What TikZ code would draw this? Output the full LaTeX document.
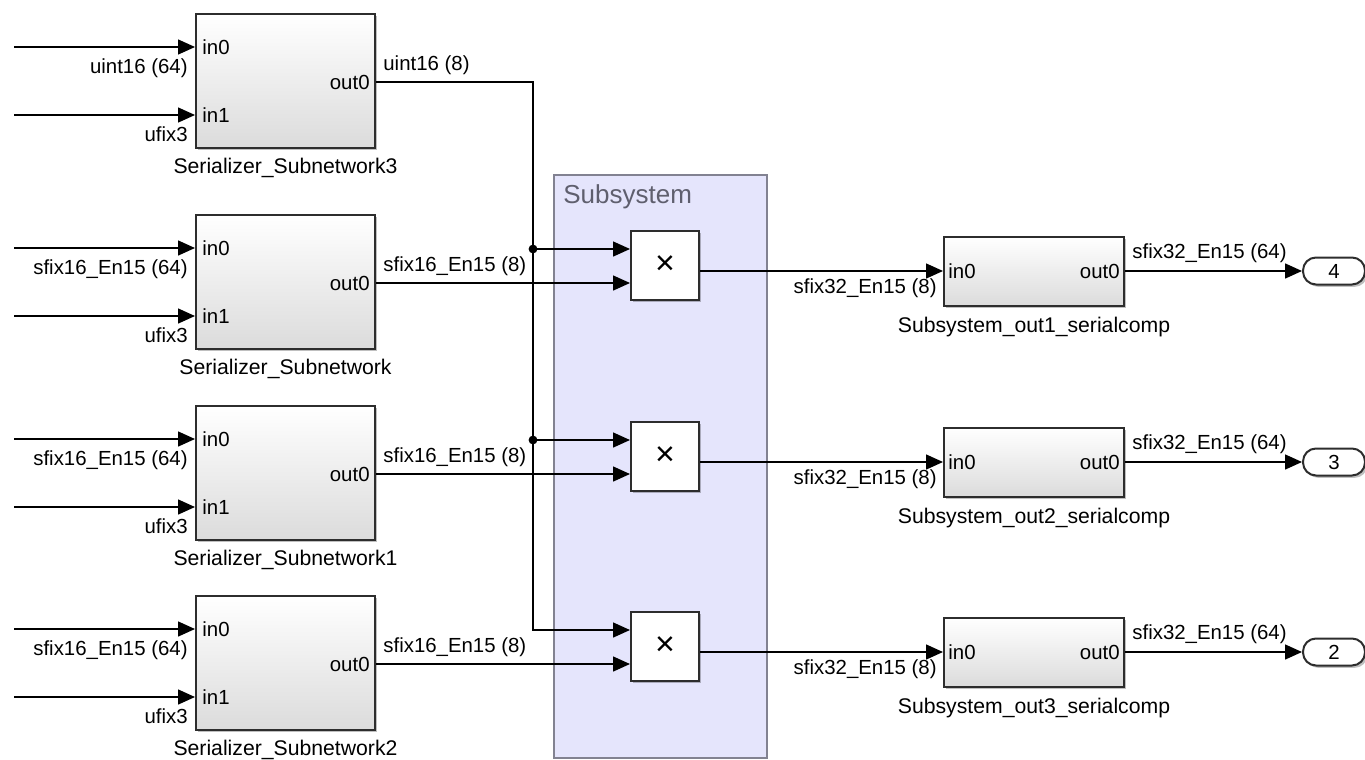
\documentclass[tikz,border=0pt]{standalone}
\usepackage{fontspec}
\setmainfont{Liberation Sans}
\usetikzlibrary{arrows.meta,calc,shadows}

\definecolor{subsysfill}{RGB}{229,229,252}
\definecolor{subsysline}{RGB}{130,130,145}
\definecolor{subsystext}{RGB}{95,95,110}
\definecolor{blkline}{RGB}{45,45,45}

\tikzset{
  wire/.style={line width=0.75pt},
  sig/.style={wire, -{Triangle[length=8.5pt,width=7.5pt]}},
  blkshadow/.style={drop shadow={shadow xshift=1.2pt,shadow yshift=-1.2pt,opacity=0.25,fill=black}},
  serblock/.style={draw=blkline, line width=1pt, top color=white, bottom color=black!14,
    blkshadow, minimum width=89.5pt, minimum height=67pt, inner sep=0pt, anchor=north west},
  compblock/.style={serblock, minimum width=90pt, minimum height=34.5pt},
  mulblock/.style={draw=blkline, line width=1pt, fill=white, blkshadow, minimum width=34pt,
    minimum height=34.5pt, inner sep=0pt, anchor=north west, font=\fontsize{17}{17}\selectfont},
  outport/.style={draw=blkline, line width=1pt, fill=white, rounded corners=6.5pt, blkshadow,
    minimum width=31pt, minimum height=13.5pt, inner sep=0pt, anchor=west},
  lbl/.style={inner sep=0pt},
  namelbl/.style={lbl, anchor=north, font=\fontsize{10.6}{12}\selectfont},
}

\begin{document}
\begin{tikzpicture}[x=0.5pt,y=-0.5pt,font=\fontsize{10.2}{12}\selectfont]
  \useasboundingbox (0,0) rectangle (1365,760);

  % subsystem area
  \node[draw=subsysline, line width=1.2pt, fill=subsysfill, minimum width=106.5pt,
    minimum height=291.5pt, inner sep=0pt, anchor=north west] (subsys) at (553,174) {};
  \node[lbl, anchor=north west, text=subsystext, font=\fontsize{13}{15}\selectfont]
    (subsyslbl) at (563,184) {Subsystem};

  % serializers
  \foreach \blk/\top/\dtin/\dtout/\nm in {
    ser3/13/uint16 (64)/uint16 (8)/Serializer\_Subnetwork3,
    ser0/214/sfix16\_En15 (64)/sfix16\_En15 (8)/Serializer\_Subnetwork,
    ser1/405/sfix16\_En15 (64)/sfix16\_En15 (8)/Serializer\_Subnetwork1,
    ser2/595/sfix16\_En15 (64)/sfix16\_En15 (8)/Serializer\_Subnetwork2}
  {
    \node[serblock] (\blk) at (195,\top) {};
    \coordinate (\blk-in0) at ($(\blk.north west)+(0,34)$);
    \coordinate (\blk-in1) at ($(\blk.north west)+(0,102)$);
    \coordinate (\blk-out) at ($(\blk.north east)+(0,69)$);
    \coordinate (\blk-src0) at ($(\blk-in0)+(-181,0)$);
    \coordinate (\blk-src1) at ($(\blk-in1)+(-181,0)$);
    \draw[sig] (\blk-src0) -- (\blk-in0);
    \draw[sig] (\blk-src1) -- (\blk-in1);
    \node[lbl, anchor=west] at ($(\blk-in0)+(7,0)$) {in0};
    \node[lbl, anchor=west] at ($(\blk-in1)+(7,0)$) {in1};
    \node[lbl, anchor=east] at ($(\blk-out)+(-6,0)$) {out0};
    \node[lbl, anchor=base east] at ($(\blk-in0)+(-7,26)$) {\dtin};
    \node[lbl, anchor=base east] at ($(\blk-in1)+(-7,26)$) {ufix3};
    \node[lbl, anchor=base west] at ($(\blk-out)+(7,-12)$) {\dtout};
    \node[namelbl] at ($(\blk.south)+(0,9)$) {\nm};
  }

  % products
  \foreach \m/\top in {mul1/230, mul2/421, mul3/611}{
    \node[mulblock] (\m) at (630,\top) {×};
    \coordinate (\m-in0) at ($(\m.north west)+(0,19)$);
    \coordinate (\m-in1) at ($(\m.north west)+(0,53)$);
    \coordinate (\m-out) at ($(\m.north east)+(0,41)$);
  }

  % output converters and ports
  \foreach \c/\top/\nm/\port in {
    cmp1/236/Subsystem\_out1\_serialcomp/4,
    cmp2/427/Subsystem\_out2\_serialcomp/3,
    cmp3/617/Subsystem\_out3\_serialcomp/2}
  {
    \node[compblock] (\c) at (943,\top) {};
    \coordinate (\c-in0) at ($(\c.north west)+(0,35)$);
    \coordinate (\c-out) at ($(\c.north east)+(0,35)$);
    \node[outport] (\c-port) at ($(\c-out)+(177,0)$) {\port};
    \draw[sig] (\c-out) -- (\c-port);
    \node[lbl, anchor=west] at ($(\c-in0)+(5,0)$) {in0};
    \node[lbl, anchor=east] at ($(\c-out)+(-5,0)$) {out0};
    \node[lbl, anchor=base east] at ($(\c-in0)+(-6,22)$) {sfix32\_En15 (8)};
    \node[lbl, anchor=base west] at ($(\c-out)+(7,-13)$) {sfix32\_En15 (64)};
    \node[namelbl] at ($(\c.south)+(0,10)$) {\nm};
  }

  % data into the products
  \draw[sig] (ser0-out) -- (mul1-in1);
  \draw[sig] (ser1-out) -- (mul2-in1);
  \draw[sig] (ser2-out) -- (mul3-in1);

  \coordinate (busX) at (533,0);
  \coordinate (tap1) at (mul1-in0 -| busX);
  \coordinate (tap2) at (mul2-in0 -| busX);
  \draw[sig] (ser3-out) -| (mul3-in0 -| busX) -- (mul3-in0);
  \draw[sig] (tap1) -- (mul1-in0);
  \draw[sig] (tap2) -- (mul2-in0);
  \fill (tap1) circle (2.2pt);
  \fill (tap2) circle (2.2pt);

  % products to converters
  \draw[sig] (mul1-out) -- (cmp1-in0);
  \draw[sig] (mul2-out) -- (cmp2-in0);
  \draw[sig] (mul3-out) -- (cmp3-in0);
\end{tikzpicture}
\end{document}
